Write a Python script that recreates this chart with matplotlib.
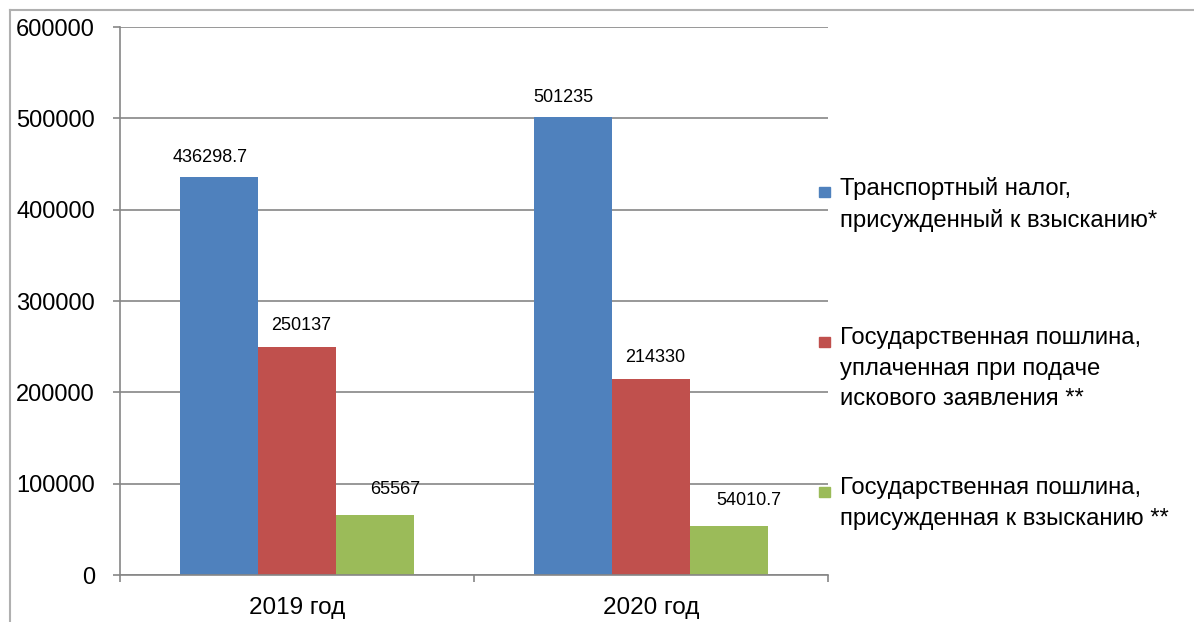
import numpy as np
import matplotlib.pyplot as plt
from matplotlib.patches import Rectangle
from matplotlib.lines import Line2D

plt.rcParams['font.family'] = ['Liberation Sans', 'DejaVu Sans']

categories = ['2019 год', '2020 год']
series_labels = ['Транспортный налог,\nприсужденный к взысканию*',
                 'Государственная пошлина,\nуплаченная при подаче\nискового заявления **',
                 'Государственная пошлина,\nприсужденная к взысканию **']
transport_tax = [436298.7, 501235]
duty_paid = [250137, 214330]
duty_awarded = [65567, 54010.7]
value_text = [['436298.7', '501235'], ['250137', '214330'], ['65567', '54010.7']]
yticks = [0, 100000, 200000, 300000, 400000, 500000, 600000]

colors = ['#4F81BD', '#C0504D', '#9BBB59']
series = [transport_tax, duty_paid, duty_awarded]

fig = plt.figure(figsize=(11.94, 6.22), dpi=100)
ax = fig.add_axes([120/1194, 1 - 575/622, 708/1194, 548/622])

x = np.arange(len(categories))
w = 0.221
label_dx = [-9, 4, 20]  # Excel-ish label offsets, px
label_dy = [11, 13, 17]
for i, vals in enumerate(series):
    pos = x + (i - 1) * w
    ax.bar(pos, vals, width=w, color=colors[i], zorder=2)
    for p, v, t in zip(pos, vals, value_text[i]):
        ax.annotate(t, (p, v), xytext=(label_dx[i], label_dy[i]), textcoords='offset pixels',
                    ha='center', va='bottom', fontsize=13, color='black')

ax.set_xlim(-0.5, 1.5)
ax.set_ylim(0, 600000)
ax.set_yticks(yticks)
ax.set_yticklabels([str(t) for t in yticks], fontsize=17)
ax.yaxis.grid(True, color='#868686', linewidth=1.2, zorder=0)
ax.set_axisbelow(True)

# category boundary ticks on x axis
ax.set_xticks([-0.5, 0.5, 1.5])
ax.set_xticklabels([])
ax.set_xticks(x, minor=True)
ax.set_xticklabels(categories, minor=True, fontsize=17.5)
ax.tick_params(axis='x', which='minor', length=0, pad=16)
ax.tick_params(axis='x', which='major', length=5, color='#868686', width=1.2)
ax.tick_params(axis='y', length=5, color='#868686', width=1.2, pad=13)

for s in ['top', 'right']:
    ax.spines[s].set_visible(False)
for s in ['left', 'bottom']:
    ax.spines[s].set_color('#868686')
    ax.spines[s].set_linewidth(1.2)

# legend drawn by hand to follow the Excel layout
leg_y = [190, 340, 490]
for lab, c, yy in zip(series_labels, colors, leg_y):
    fig.patches.append(Rectangle((819/1194, 1 - (yy + 7)/622), 11/1194, 10/622,
                                 transform=fig.transFigure, color=c))
    fig.text(840/1194, 1 - (yy - 13)/622, lab, fontsize=17.2, va='top', ha='left',
             linespacing=1.5)

# outer frame
fig.add_artist(Line2D([10/1194, 1], [1 - 10/622, 1 - 10/622], transform=fig.transFigure,
                      color='#B0B0B0', linewidth=1.5))
fig.add_artist(Line2D([10/1194, 10/1194], [0, 1 - 10/622], transform=fig.transFigure,
                      color='#B0B0B0', linewidth=1.5))

fig.savefig('out.png', dpi=100)
